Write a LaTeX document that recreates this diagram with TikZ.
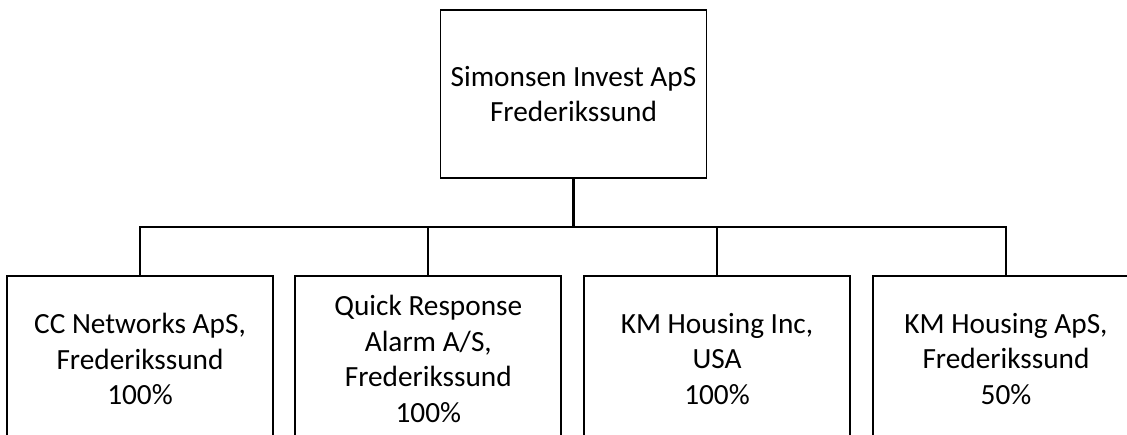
\documentclass[tikz,border=0pt]{standalone}
\usepackage{fontspec}
\setmainfont{Carlito}
\begin{document}
\begin{tikzpicture}[x=1pt,y=-1pt,
  orgbox/.style={draw=black, line width=1.8pt, fill=white, minimum width=266pt, minimum height=166pt,
    align=center, inner sep=0pt, font=\fontsize{29.3}{35.6}\selectfont},
  link/.style={draw=black, line width=1.8pt}]
\useasboundingbox (0,0) rectangle (1127,434);
\node[orgbox, minimum height=168pt] (top) at (573.5,94) {Simonsen Invest ApS\\Frederikssund};
\node[orgbox] (c1) at (140,359) {CC Networks ApS,\\Frederikssund\\100\%};
\node[orgbox] (c2) at (428.3,359) {Quick Response\\Alarm A/S,\\Frederikssund\\100\%};
\node[orgbox] (c3) at (717,359) {KM Housing Inc,\\USA\\100\%};
\node[orgbox] (c4) at (1006,359) {KM Housing ApS,\\Frederikssund\\50\%};
\coordinate (bus) at (573.5,227);
\draw[link, line width=2.6pt] (top.south) -- (bus);
\draw[link] (c1.north) |- (bus) -| (c4.north);
\draw[link] (c2.north) -- (c2.north |- bus);
\draw[link] (c3.north) -- (c3.north |- bus);
\end{tikzpicture}
\end{document}
